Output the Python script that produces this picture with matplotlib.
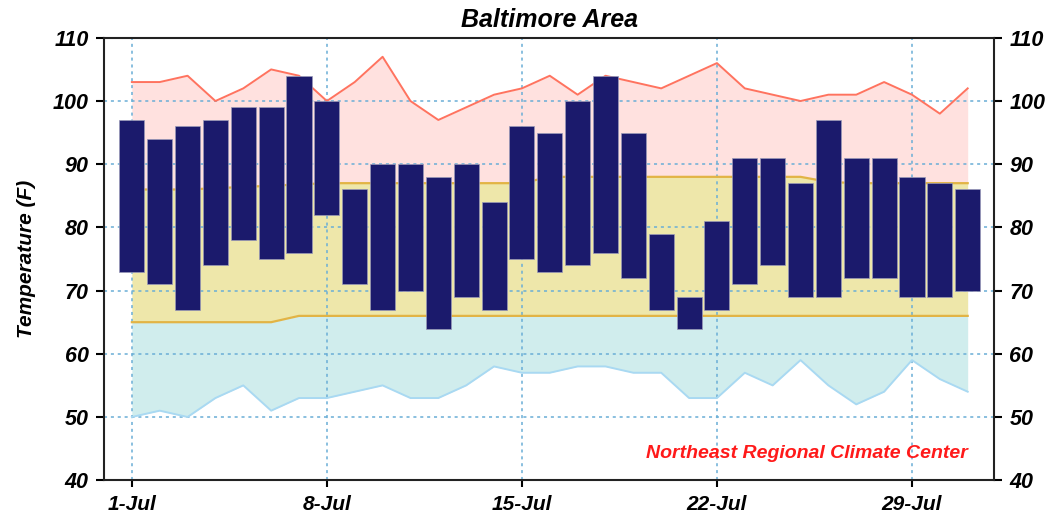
import numpy as np
import pandas as pd
import matplotlib
matplotlib.use("Agg")
import matplotlib.pyplot as plt
import matplotlib.dates as mdates

plt.rcParams['font.family'] = ['Liberation Sans', 'DejaVu Sans']

# daily observed high / low (F), 1-31 July
days = pd.date_range('2023-07-01', periods=31, freq='D')
obs_high = [97, 94, 96, 97, 99, 99, 104, 100, 86, 90, 90, 88, 90, 84, 96, 95,
            100, 104, 95, 79, 69, 81, 91, 91, 87, 97, 91, 91, 88, 87, 86]
obs_low = [73, 71, 67, 74, 78, 75, 76, 82, 71, 67, 70, 64, 69, 67, 75, 73,
           74, 76, 72, 67, 64, 67, 71, 74, 69, 69, 72, 72, 69, 69, 70]

# climatology
record_high = [103, 103, 104, 100, 102, 105, 104, 100, 103, 107, 100, 97, 99, 101, 102, 104,
               101, 104, 103, 102, 104, 106, 102, 101, 100, 101, 101, 103, 101, 98, 102]
normal_high = [86, 86, 86, 86.2, 86.4, 86.6, 86.8, 87, 87, 87, 87, 87, 87, 87, 87, 88,
               88, 88, 88, 88, 88, 88, 88, 88, 88, 87.2, 87, 87, 87, 87, 87]
normal_low = [65, 65, 65, 65, 65, 65, 66, 66, 66, 66, 66, 66, 66, 66, 66, 66,
              66, 66, 66, 66, 66, 66, 66, 66, 66, 66, 66, 66, 66, 66, 66]
record_low = [50, 51, 50, 53, 55, 51, 53, 53, 54, 55, 53, 53, 55, 58, 57, 57,
              58, 58, 57, 57, 53, 53, 57, 55, 59, 55, 52, 54, 59, 56, 54]

y_ticks = [40, 50, 60, 70, 80, 90, 100, 110]
x_ticks = pd.to_datetime(['2023-07-01', '2023-07-08', '2023-07-15', '2023-07-22', '2023-07-29'])

fig = plt.figure(figsize=(10.61, 5.18), dpi=100)
ax = fig.add_axes([0.098, 0.073, 0.839, 0.854])

ax.fill_between(days, normal_high, record_high, color='#ffe1df', lw=0, zorder=1)
ax.fill_between(days, normal_low, normal_high, color='#eee7aa', lw=0, zorder=1)
ax.fill_between(days, record_low, normal_low, color='#d0eded', lw=0, zorder=1)

ax.plot(days, record_high, color='#ff735f', lw=1.4, zorder=2)
ax.plot(days, normal_high, color='#e2b445', lw=1.6, zorder=2)
ax.plot(days, normal_low, color='#e2b445', lw=1.6, zorder=2)
ax.plot(days, record_low, color='#a9d9f2', lw=1.4, zorder=2)

ax.bar(days, np.array(obs_high) - np.array(obs_low), bottom=obs_low, width=0.9,
       color='#1b1a6c', edgecolor='#9a9ab8', linewidth=0.5, zorder=3)

ax.set_axisbelow('line')
ax.grid(True, color='#6aaed6', linestyle=(0, (2, 2.5)), linewidth=1.1)

ax.set_ylim(40, 110)
ax.set_yticks(y_ticks)
ax.set_xlim(days[0] - pd.Timedelta(days=1), days[0] + pd.Timedelta(days=30.95))
ax.set_xticks(x_ticks)
ax.xaxis.set_major_formatter(mdates.DateFormatter('%-d-%b'))

for s in ax.spines.values():
    s.set_linewidth(1.5)
    s.set_color('#222222')

ax.tick_params(axis='y', right=True, labelright=True, length=6, width=1.5, pad=5,
               labelsize=15.5)
ax.tick_params(axis='x', length=5, width=1.5, pad=6, labelsize=15)
for lab in ax.get_xticklabels() + ax.get_yticklabels():
    lab.set_fontweight('bold')
    lab.set_fontstyle('italic')
for t in ax.yaxis.get_major_ticks():
    t.label2.set_fontweight('bold')
    t.label2.set_fontstyle('italic')

ax.set_title('Baltimore Area', fontsize=18, fontweight='bold', fontstyle='italic', pad=8)
ax.set_ylabel('Temperature (F)', fontsize=15, fontweight='bold', fontstyle='italic', labelpad=12)

ax.text(days[-1], 43.5, 'Northeast Regional Climate Center', color='#ff1a1a',
        fontsize=14, fontweight='bold', fontstyle='italic', ha='right', va='baseline',
        zorder=4)

fig.savefig('out.png', dpi=100)
